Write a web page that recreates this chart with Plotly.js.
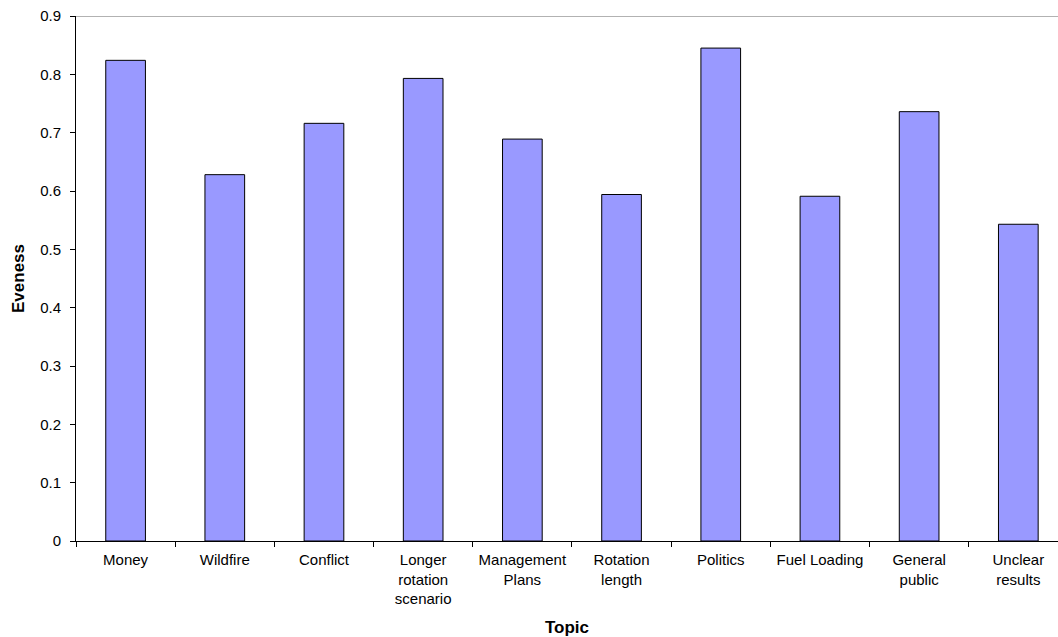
<!DOCTYPE html>
<html>
<head>
<meta charset="utf-8">
<script src="https://cdn.plot.ly/plotly-3.0.1.min.js"></script>
<style>html,body{margin:0;padding:0;background:#fff;}#chart{width:1058px;height:637px;}</style>
</head>
<body>
<div id="chart"></div>
<script>
var topics = ["Money", "Wildfire", "Conflict", "Longer<br>rotation<br>scenario", "Management<br>Plans", "Rotation<br>length", "Politics", "Fuel Loading", "General<br>public", "Unclear<br>results"];
var eveness = [0.824, 0.628, 0.716, 0.793, 0.689, 0.594, 0.845, 0.591, 0.736, 0.543];
var yTicks = [0, 0.1, 0.2, 0.3, 0.4, 0.5, 0.6, 0.7, 0.8, 0.9];
var yTickText = ["0", "0.1", "0.2", "0.3", "0.4", "0.5", "0.6", "0.7", "0.8", "0.9"];

var trace = {
  type: "bar",
  x: topics,
  y: eveness,
  width: 0.4,
  marker: {color: "#9999FF", line: {color: "#000000", width: 1}},
  hoverinfo: "x+y"
};

var layout = {
  width: 1058, height: 637,
  margin: {l: 76, r: 0, t: 16, b: 96, pad: 0},
  paper_bgcolor: "#ffffff", plot_bgcolor: "#ffffff",
  font: {family: "Liberation Sans, Arial, sans-serif", size: 15, color: "#000"},
  showlegend: false,
  xaxis: {
    type: "category",
    range: [-0.5, 9.4],
    showline: true, linecolor: "#000", linewidth: 1,
    ticks: "outside", tickson: "boundaries", ticklen: 5, tickcolor: "#000",
    showgrid: false, zeroline: false,
    tickfont: {size: 15},
    tickangle: 0,
    ticklabelstandoff: 5,
    title: {text: "<b>Topic</b>", font: {size: 17}, standoff: 15}
  },
  yaxis: {
    range: [0, 0.9],
    tickvals: yTicks, ticktext: yTickText,
    showline: true, linecolor: "#000", linewidth: 1,
    ticks: "outside", ticklen: 5, tickcolor: "#000",
    showgrid: false, zeroline: false,
    tickfont: {size: 15},
    ticklabelstandoff: 6,
    title: {text: "<b>Eveness</b>", font: {size: 17}, standoff: 11}
  },
  shapes: [{type: "line", xref: "paper", yref: "y", x0: 0, x1: 1, y0: 0.9, y1: 0.9, line: {color: "#999999", width: 1.5}}]
};

Plotly.newPlot("chart", [trace], layout, {displayModeBar: false, staticPlot: true});
</script>
</body>
</html>
